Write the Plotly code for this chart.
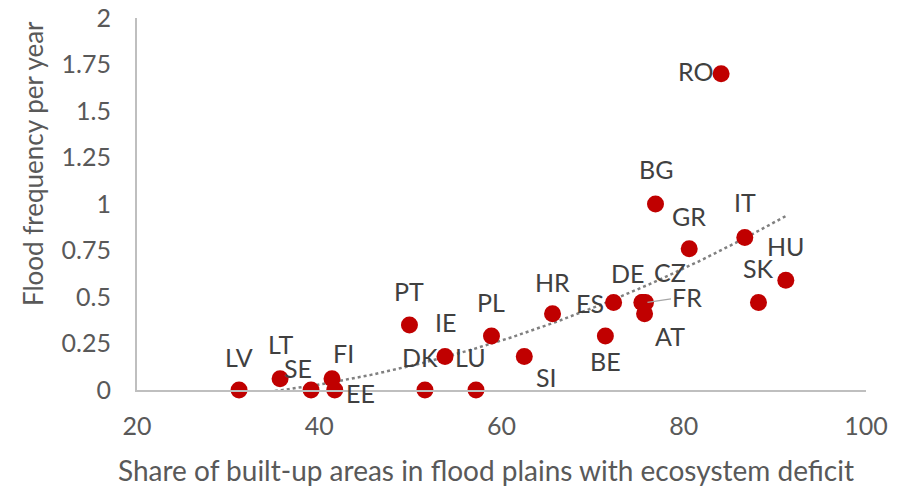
import numpy as np
import plotly.graph_objects as go

# ---- data ----
countries = ["LV", "LT", "SE", "FI", "EE", "PT", "DK", "IE", "LU", "PL", "SI", "HR",
             "BE", "ES", "DE", "CZ", "FR", "AT", "BG", "GR", "RO", "IT", "SK", "HU"]
built_up_share = [31.2, 35.7, 39.1, 41.4, 41.7, 49.9, 51.6, 53.8, 57.2, 58.9, 62.5, 65.6,
                  71.4, 72.3, 75.4, 75.5, 75.8, 75.7, 76.9, 80.6, 84.1, 86.7, 88.2, 91.2]
flood_freq = [0.0, 0.06, 0.0, 0.06, 0.0, 0.35, 0.0, 0.18, 0.0, 0.29, 0.18, 0.41,
              0.29, 0.47, 0.47, 0.47, 0.47, 0.41, 1.0, 0.76, 1.7, 0.82, 0.47, 0.59]
x_ticks = [20, 40, 60, 80, 100]
y_ticks = [0, 0.25, 0.5, 0.75, 1, 1.25, 1.5, 1.75, 2]
y_tick_labels = ["0", "0.25", "0.5", "0.75", "1", "1.25", "1.5", "1.75", "2"]

# ---- label placement (pixel offsets from the point; style only) ----
label_offsets = {
    "LV": (0, 33), "LT": (0, 35), "SE": (-13, 22), "FI": (11, 26), "EE": (26, -3),
    "PT": (0, 34), "DK": (-5, 33), "IE": (0, 35), "LU": (-5, 33), "PL": (0, 34),
    "SI": (22, -20), "HR": (0, 32), "BE": (0, -25), "ES": (-24, 0), "DE": (-14, 30),
    "CZ": (27, 31), "AT": (25, -22), "BG": (0, 35), "GR": (0, 33), "RO": (-25, 3),
    "IT": (0, 35), "SK": (0, 35), "HU": (0, 34),
}

FONT = "Lato, 'Open Sans', sans-serif"
TICK_COLOR = "#595959"
LABEL_COLOR = "#404040"
AXIS_COLOR = "#BFBFBF"
FS = 25
FS_YTITLE = 26
FS_XTITLE = 28

fig = go.Figure()

# quadratic trendline fitted to the data
coef = np.polyfit(built_up_share, flood_freq, 2)
xt = np.linspace(min(built_up_share), max(built_up_share), 200)
yt = np.polyval(coef, xt)
fig.add_trace(go.Scatter(x=xt, y=yt, mode="lines",
                         line=dict(color="#808080", width=2.5, dash="dot"),
                         hoverinfo="skip", showlegend=False))

fig.add_trace(go.Scatter(x=built_up_share, y=flood_freq, mode="markers",
                         marker=dict(size=17, color="#C00000",
                                     line=dict(width=0)),
                         cliponaxis=False, text=countries, showlegend=False))

annotations = []
for c, xv, yv in zip(countries, built_up_share, flood_freq):
    if c == "FR":
        annotations.append(dict(x=xv, y=yv, xref="x", yref="y", text=c,
                                showarrow=True, arrowhead=0, arrowwidth=1.2,
                                arrowcolor="#A6A6A6", ax=42, ay=-6, standoff=2,
                                font=dict(family=FONT, size=FS, color=LABEL_COLOR)))
        continue
    dx, dy = label_offsets[c]
    annotations.append(dict(x=xv, y=yv, xref="x", yref="y", text=c, showarrow=False,
                            xshift=dx, yshift=dy, xanchor="center", yanchor="middle",
                            font=dict(family=FONT, size=FS, color=LABEL_COLOR)))

# axis titles
annotations.append(dict(x=-0.1427, y=0.61, xref="paper", yref="paper",
                        text="Flood frequency per year", textangle=-90, showarrow=False,
                        xanchor="center", yanchor="middle",
                        font=dict(family=FONT, size=FS_YTITLE, color=TICK_COLOR)))
annotations.append(dict(x=0.479, y=-0.215, xref="paper", yref="paper",
                        text="Share of built-up areas in flood plains with ecosystem deficit",
                        showarrow=False, xanchor="center", yanchor="middle",
                        font=dict(family=FONT, size=FS_XTITLE, color=TICK_COLOR)))

fig.update_layout(
    width=900, height=496,
    margin=dict(l=137, r=34, t=18, b=106, autoexpand=False),
    paper_bgcolor="white", plot_bgcolor="white",
    annotations=annotations,
    font=dict(family=FONT, size=FS, color=TICK_COLOR),
)
fig.update_xaxes(range=[20, 100], tickvals=x_ticks, showgrid=False, zeroline=False,
                 showline=True, linecolor=AXIS_COLOR, linewidth=2,
                 ticks="", ticklabelstandoff=13, automargin=False,
                 tickfont=dict(family=FONT, size=FS, color=TICK_COLOR))
fig.update_yaxes(range=[0, 2], tickvals=y_ticks, ticktext=y_tick_labels,
                 showgrid=False, zeroline=False,
                 showline=True, linecolor=AXIS_COLOR, linewidth=2,
                 ticks="", ticklabelstandoff=19, automargin=False,
                 tickfont=dict(family=FONT, size=FS, color=TICK_COLOR))

fig.write_html("out.html", config={"displayModeBar": False},
               post_script="document.body.style.margin='0';document.body.style.overflow='hidden';")
